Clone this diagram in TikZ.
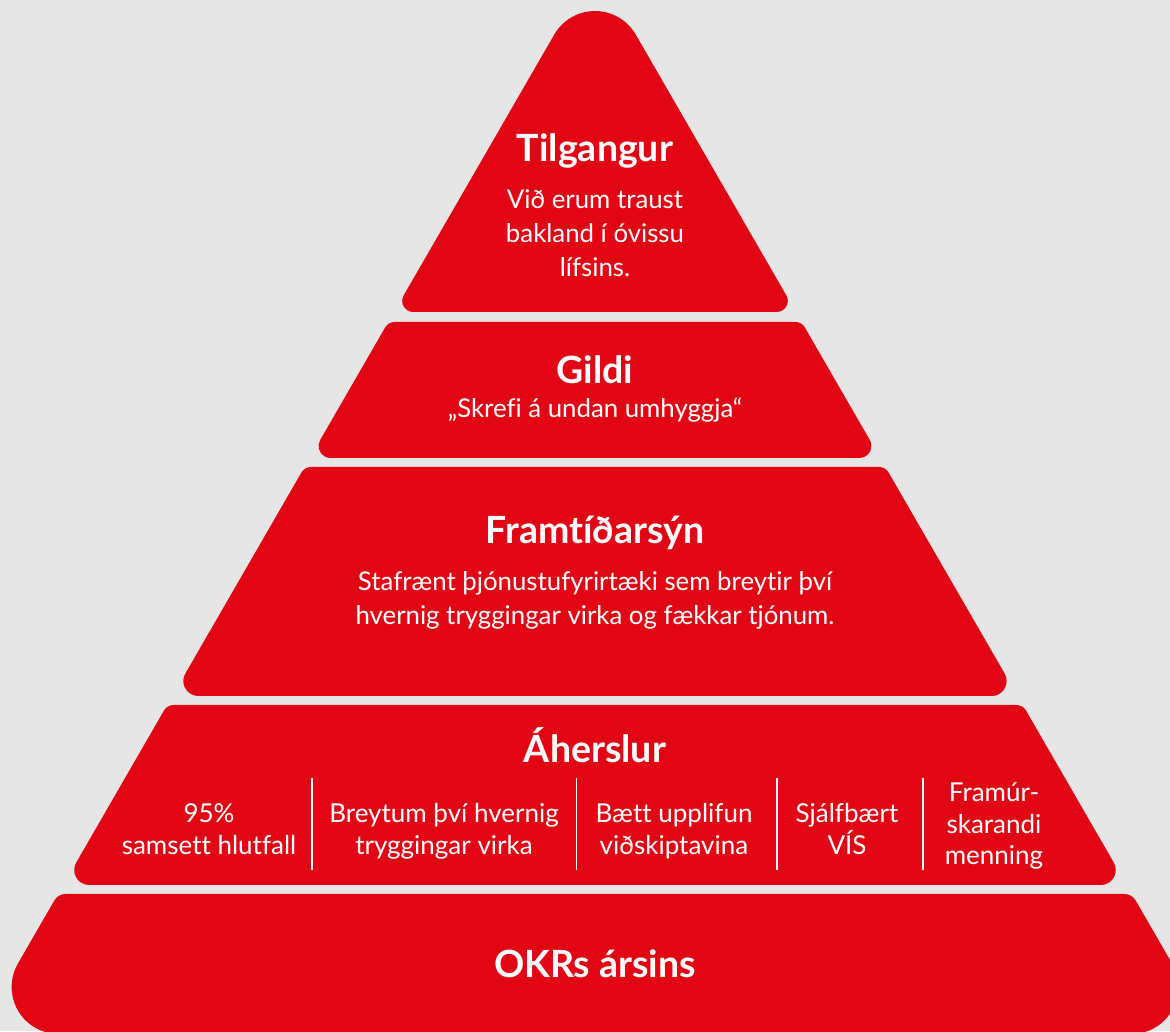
\documentclass[tikz,border=0pt]{standalone}
\usepackage{fontspec}
\setmainfont{Lato}[Ligatures={CommonOff,ContextualOff}]
\definecolor{pyrred}{RGB}{226,6,21}
\definecolor{pyrbg}{RGB}{230,230,230}
\newcommand{\pyrtier}[4]{%
  \pgfmathsetmacro\pyrBL{595-(1067-(#1+#3))*0.57735+1.1547*#3}%
  \pgfmathsetmacro\pyrBR{595+(1067-(#1+#3))*0.57735-1.1547*#3}%
  \pgfmathsetmacro\pyrTR{595+(1067-(#2-#4))*0.57735-1.1547*#4}%
  \pgfmathsetmacro\pyrTL{595-(1067-(#2-#4))*0.57735+1.1547*#4}%
  \fill[pyrred] (\pyrBL,#1) -- (\pyrBR,#1) arc[start angle=-90,end angle=30,radius=#3pt]
    -- ({\pyrTR+0.86603*#4},{#2-0.5*#4}) arc[start angle=30,end angle=90,radius=#4pt]
    -- (\pyrTL,#2) arc[start angle=90,end angle=150,radius=#4pt]
    -- ({\pyrBL-0.86603*#3},{#1+1.5*#3}) arc[start angle=150,end angle=270,radius=#3pt] -- cycle;
}
\newcommand{\pyrapex}[3]{%
  \pgfmathsetmacro\pyrBL{595-(1067-(#1+#2))*0.57735+1.1547*#2}%
  \pgfmathsetmacro\pyrBR{595+(1067-(#1+#2))*0.57735-1.1547*#2}%
  \fill[pyrred] (\pyrBL,#1) -- (\pyrBR,#1) arc[start angle=-90,end angle=30,radius=#2pt]
    -- ({595+0.86603*#3},{1067-1.5*#3}) arc[start angle=30,end angle=150,radius=#3pt]
    -- ({\pyrBL-0.86603*#2},{#1+1.5*#2}) arc[start angle=150,end angle=270,radius=#2pt] -- cycle;
}
\begin{document}
\begin{tikzpicture}[x=1pt,y=1pt,
  ttl/.style={text=white,inner sep=0pt,anchor=base,font=\fontsize{37.5}{42}\selectfont\bfseries},
  bdy/.style={text=white,inner sep=0pt,anchor=base,font=\fontsize{25.8}{30}\selectfont},
  col/.style={text=white,inner sep=0pt,anchor=base,font=\fontsize{26}{30}\selectfont},
  sep/.style={draw=white,line width=1.3pt}]
\useasboundingbox (0,0) rectangle (1170,1031);
\clip (0,0) rectangle (1170,1031);
\fill[pyrbg] (0,0) rectangle (1170,1031);
% tiers
\pyrapex{719}{11}{47}
\pyrtier{573}{709}{12}{11}
\pyrtier{335}{564}{15}{11}
\pyrtier{146}{326}{15}{11}
\pyrtier{-3}{137}{47}{13}
% Tilgangur
\node[ttl] (t1) at (595,869.3) {Tilgangur};
\node[bdy] (t1a) at (595,822.7) {Við erum traust};
\node[bdy] (t1b) at (595,788.3) {bakland í óvissu};
\node[bdy] (t1c) at (595,754.3) {lífsins.};
% Gildi
\node[ttl] (t2) at (595,647) {Gildi};
\node[bdy] (t2a) at (595,613.7) {„Skrefi á undan umhyggja“};
% Framtidarsyn
\node[ttl] (t3) at (595,487.7) {Framtíðarsýn};
\node[bdy] (t3a) at (595,440.3) {Stafrænt þjónustufyrirtæki sem breytir því};
\node[bdy] (t3b) at (595,406) {hvernig tryggingar virka og fækkar tjónum.};
% Aherslur
\node[ttl] (t4) at (595,268) {Áherslur};
\node[col] (c1a) at (209,208) {95\%};
\node[col] (c1b) at (209,176) {samsett hlutfall};
\node[col] (c2a) at (444,208) {Breytum því hvernig};
\node[col] (c2b) at (444,176) {tryggingar virka};
\node[col] (c3a) at (674,208) {Bætt upplifun};
\node[col] (c3b) at (674,176) {viðskiptavina};
\node[col] (c4a) at (847,208) {Sjálfbært};
\node[col] (c4b) at (847,176) {VÍS};
\node[col] (c5a) at (994,229) {Framúr-};
\node[col] (c5b) at (994,197) {skarandi};
\node[col] (c5c) at (994,166) {menning};
\coordinate (d1t) at (312,253); \coordinate (d1b) at (312,161);
\coordinate (d2t) at (576.5,253); \coordinate (d2b) at (576.5,161);
\coordinate (d3t) at (777,253); \coordinate (d3b) at (777,161);
\coordinate (d4t) at (923,253); \coordinate (d4b) at (923,161);
\draw[sep] (d1t) -- (d1b);
\draw[sep] (d2t) -- (d2b);
\draw[sep] (d3t) -- (d3b);
\draw[sep] (d4t) -- (d4b);
% OKRs
\node[ttl] (t5) at (595,54) {OKRs ársins};
\end{tikzpicture}
\end{document}
